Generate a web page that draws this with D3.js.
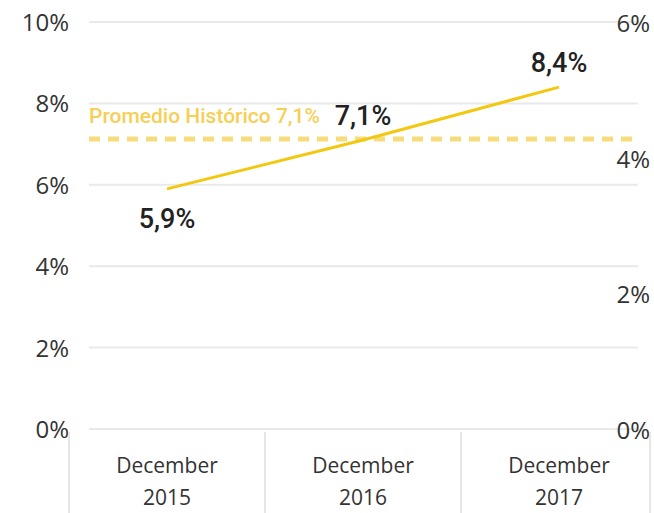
<!DOCTYPE html>
<html>
<head>
<meta charset="utf-8">
<script src="https://cdn.jsdelivr.net/npm/d3@7"></script>
<style>
  body { margin: 0; background: #fff; }
  svg { display: block; }
  .tick-label { font-family: "Open Sans", sans-serif; font-size: 24px; fill: #333; }
  .cat-label { font-family: "Open Sans", sans-serif; font-size: 21px; fill: #333; }
  .data-label { font-family: Roboto, sans-serif; font-weight: 500; font-size: 27px; fill: #222; }
</style>
</head>
<body>
<div class="chart"></div>
<script>
var years = ["2015", "2016", "2017"]
var rates = [5.9, 7.1, 8.4]
var rateLabels = ["5,9%", "7,1%", "8,4%"]
var leftTicks = [0, 2, 4, 6, 8, 10]
var rightTicks = [0, 2, 4, 6]
var average = 7.1
var averageLabel = "Promedio Histórico 7,1%"

var W = 654, H = 513

var svg = d3.select('.chart')
    .append('svg')
    .attr('width', W)
    .attr('height', H)

var x = d3.scaleBand().domain(years).range([69, 657])
var y = d3.scaleLinear().domain([0, 10]).range([429, 22])
var y2 = d3.scaleLinear().domain([0, 6]).range([429, 22])

// gridlines
svg.selectAll('.grid')
    .data(leftTicks)
    .enter()
    .append('line')
    .attr('x1', 89)
    .attr('x2', 638)
    .attr('y1', d => y(d))
    .attr('y2', d => y(d))
    .attr('stroke', '#e9e9e9')
    .attr('stroke-width', 2)

// left axis labels
svg.selectAll('.lt')
    .data(leftTicks)
    .enter()
    .append('text')
    .attr('class', 'tick-label')
    .attr('x', 69)
    .attr('y', d => y(d) + 9)
    .attr('text-anchor', 'end')
    .text(d => d + '%')

// right axis labels
svg.selectAll('.rt')
    .data(rightTicks)
    .enter()
    .append('text')
    .attr('class', 'tick-label')
    .attr('x', 650)
    .attr('y', d => y2(d) + 10)
    .attr('text-anchor', 'end')
    .text(d => d + '%')

// category separators
var seps = years.map(d => x(d)).concat([x.range()[1] - 7])
svg.selectAll('.sep')
    .data(seps)
    .enter()
    .append('line')
    .attr('x1', d => d)
    .attr('x2', d => d)
    .attr('y1', 432)
    .attr('y2', H)
    .attr('stroke', '#e6e6e6')
    .attr('stroke-width', 2)

var cat = svg.selectAll('.cat')
    .data(years)
    .enter()
    .append('text')
    .attr('class', 'cat-label')
    .attr('text-anchor', 'middle')
    .attr('x', d => x(d) + x.bandwidth() / 2)
cat.append('tspan').attr('x', d => x(d) + x.bandwidth() / 2).attr('y', 473).text('December')
cat.append('tspan').attr('x', d => x(d) + x.bandwidth() / 2).attr('y', 505).text(d => d)

// average line
svg.append('line')
    .attr('x1', 89)
    .attr('x2', 638)
    .attr('y1', y(average) - 1)
    .attr('y2', y(average) - 1)
    .attr('stroke', '#f7dc7c')
    .attr('stroke-width', 5)
    .attr('stroke-dasharray', '11,8')

svg.append('text')
    .attr('x', 89)
    .attr('y', 123)
    .attr('font-family', 'Roboto, sans-serif')
    .attr('font-weight', 500)
    .attr('font-size', 21)
    .attr('fill', '#f6cf55')
    .text(averageLabel)

// series line
var pts = years.map((d, i) => [x(d) + x.bandwidth() / 2, y(rates[i])])
svg.append('path')
    .attr('d', d3.line()(pts))
    .attr('fill', 'none')
    .attr('stroke', '#f2c811')
    .attr('stroke-width', 3)

// data labels
svg.selectAll('.dl')
    .data(years)
    .enter()
    .append('text')
    .attr('class', 'data-label')
    .attr('text-anchor', 'middle')
    .attr('x', d => x(d) + x.bandwidth() / 2)
    .attr('y', (d, i) => i == 0 ? y(rates[i]) + 39 : y(rates[i]) - 15)
    .text((d, i) => rateLabels[i])
</script>
</body>
</html>
